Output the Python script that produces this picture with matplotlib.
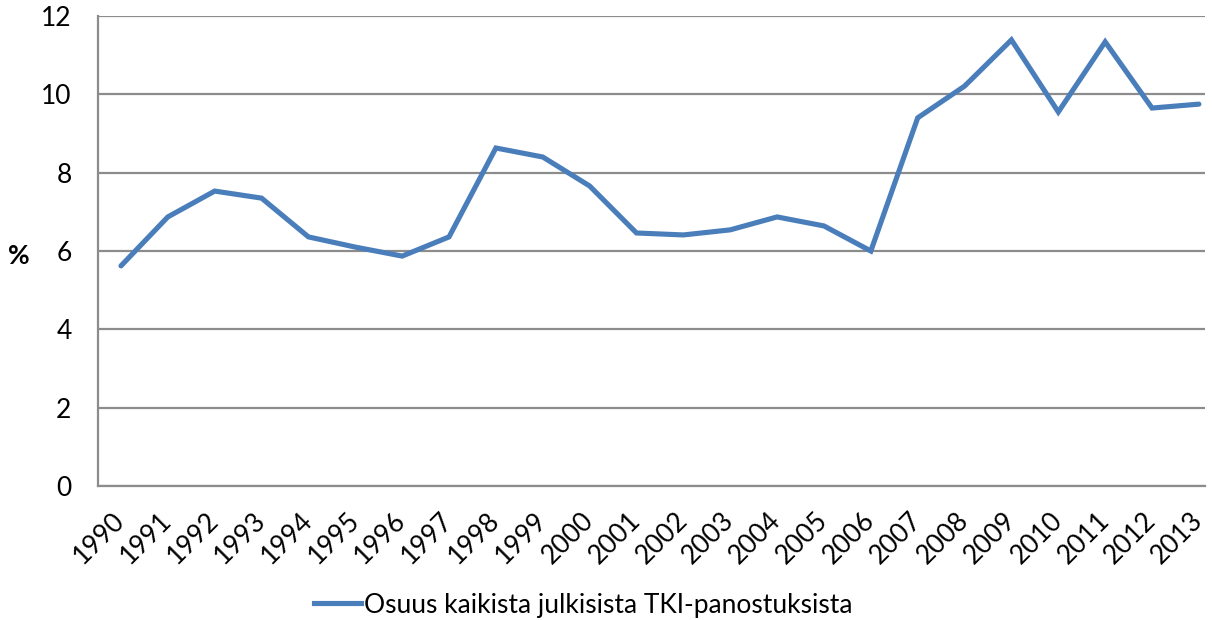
import matplotlib
matplotlib.use("Agg")
import matplotlib.pyplot as plt
from matplotlib.lines import Line2D

years = [str(y) for y in range(1990, 2014)]
share = [5.62, 6.87, 7.53, 7.35, 6.36, 6.10, 5.87, 6.36, 8.63, 8.40, 7.66, 6.46,
         6.41, 6.54, 6.87, 6.64, 6.00, 9.40, 10.21, 11.39, 9.55, 11.34, 9.65, 9.75]
yticks = [0, 2, 4, 6, 8, 10, 12]
series_label = "Osuus kaikista julkisista TKI-panostuksista"

plt.rcParams["font.family"] = ["Lato", "DejaVu Sans"]
line_c = "#4a7ebb"
grid_c = "#8c8c8c"
fs = 19

fig = plt.figure(figsize=(12.12, 6.2), dpi=100)
ax = fig.add_axes([98 / 1212, 1 - 486 / 620, (1205 - 98) / 1212, (486 - 16) / 620])

x = list(range(len(years)))
ax.plot(x, share, color=line_c, lw=3.7, solid_joinstyle="miter", solid_capstyle="round", zorder=3)

# plot area is cropped on the right, as in the original
ax.set_xlim(-0.49, 23.13)
ax.set_ylim(0, 12)
ax.set_yticks(yticks)
ax.set_yticklabels([str(v) for v in yticks], fontsize=fs)
ax.set_xticks(x)
ax.set_xticklabels(years, rotation=45, ha="right", va="center", rotation_mode="anchor", fontsize=fs)
ax.tick_params(axis="both", length=0)
ax.tick_params(axis="x", pad=22)
ax.tick_params(axis="y", pad=19)

ax.grid(axis="y", color=grid_c, lw=1.6)
ax.set_axisbelow(True)
for s in ["top", "right"]:
    ax.spines[s].set_visible(False)
for s in ["left", "bottom"]:
    ax.spines[s].set_color(grid_c)
    ax.spines[s].set_linewidth(1.6)

fig.text(19 / 1212, 1 - 256 / 620, "%", fontsize=fs, fontweight="bold", ha="center", va="center")

handle = Line2D([], [], color=line_c, lw=3.7)
fig.legend([handle], [series_label], loc="center", bbox_to_anchor=(583 / 1212, 1 - 605 / 620),
           frameon=False, fontsize=fs, handlelength=1.8, handletextpad=0.1)

fig.savefig("out.png", dpi=100)
